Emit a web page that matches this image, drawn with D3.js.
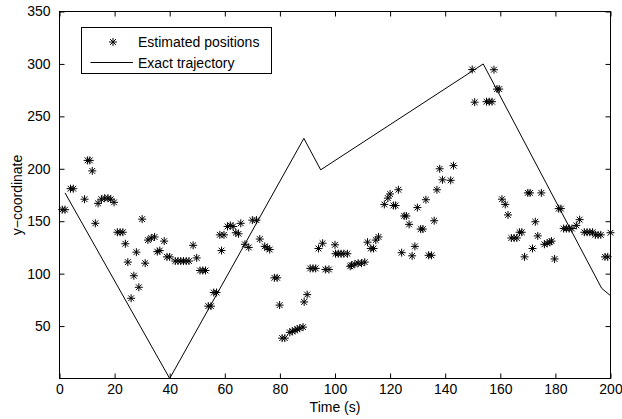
<!DOCTYPE html>
<html><head><meta charset="utf-8">
<script src="https://cdn.jsdelivr.net/npm/d3@7"></script>
<style>body{margin:0;background:#fff}svg{display:block}text{font-family:"Liberation Sans",Arial,sans-serif;fill:#000}</style>
</head><body>
<script>
// Estimated positions (time, y)
const estTime = [1,2,4,5,9.1,10.2,11,11.9,13,14,15.2,16.4,17.6,18.6,19.8,21,22,23,23.9,24.8,26,27,27.9,28.8,30,31.1,32.1,33.3,34.5,35.5,36.4,38,39,40,
  42,43,44,45,46,47,48.5,49.8,51,52,53,54,55,56,57,58.2,58.8,59.7,61,62,63,64,65,65.8,67.3,68.7,70,71.5,72.7,74.5,75.4,76.3,78,79,79.9,80.8,81.8,
  83.6,84.5,85.5,86.3,87.2,88.4,88.8,89.9,91,92,93,94,95.5,96.5,97.8,100,100.2,101.2,102.2,103.2,104.5,105.5,106,107.2,108.4,109.6,110.8,111.8,113,114,114.8,115.8,
  117.9,119.2,120,121.2,122,123,124.2,125.1,125.9,126.9,128,129,129.9,131.1,131.9,133,134,135,136,137,138,139,142,143,
  149.8,150.7,155,156,157,157.7,158.8,159.6,160.6,161.8,162.8,164,165,166,167,167.8,168.8,170,170.8,171.7,172.7,173.6,174.9,176,177,178,178.6,179.7,
  181.2,182,183,184,185,186,187.6,188.8,190.5,191.5,192.5,193.5,194.5,195.5,196.5,198,199,200];
const estY = [161,161,181,181,171,208,208,198,148,167,171,172,172,171,168,139.5,139.5,139.5,128.5,111,76.5,98,120.5,87,152,110,132,134,135,121,122,131,116,116,
  112,112,112,112,112,112,127,115,103,103,103,69,69,82,82,137,122,137,145,146,145,139,138,148,128,125,151,151,133,126,124.5,123,96,96,70,38.5,38.5,
  44,45,46,47,48,49,73,80,105,105,105,124,129,104,104,127.5,119,119,119,119,119,107,108,109,110,110,111,130,124,124,132,135,
  166,172,176,165,165,180,120,155,155,147,117,126,163,142.5,142.5,170.5,117.5,117.5,150.5,180,200,189.5,189,203,
  294.7,263.5,264,264,264,294.5,276,276,171,166,156,134,134,134,139.5,139.5,116,177,177,124,149.5,136,177,128,129,130,131,114,
  162,162,143,143,143,143,146,151.5,139.5,139.5,139.5,139.5,137,137,137,116,116,139];
// Exact trajectory
const trajTime = [2,40,88.7,94.8,153.8,196.8,200];
const trajY = [177,0,229,199,300,86,79];
const xTicks = [0,20,40,60,80,100,120,140,160,180,200];
const yTicks = [50,100,150,200,250,300,350];
const legendLabels = ["Estimated positions","Exact trajectory"];

const W = 622, H = 419;
const svg = d3.select("body").append("svg").attr("width", W).attr("height", H);
const L = 59.5, R = 610.5, T = 11.5, B = 378.5;
const x = d3.scaleLinear().domain([0,200]).range([L,R]);
const y = d3.scaleLinear().domain([0,350]).range([B,T]);

// frame
svg.append("rect").attr("x",L).attr("y",T).attr("width",R-L).attr("height",B-T)
  .attr("fill","#fff").attr("stroke","#000").attr("stroke-width",1);

// axes (inward ticks on all sides)
const fs = 14;
const ax = svg.append("g").attr("transform",`translate(0,${B})`)
  .call(d3.axisBottom(x).tickValues(xTicks).tickSizeInner(-5).tickSizeOuter(0).tickPadding(6));
const axT = svg.append("g").attr("transform",`translate(0,${T})`)
  .call(d3.axisTop(x).tickValues(xTicks).tickSizeInner(-5).tickSizeOuter(0).tickFormat(""));
const ay = svg.append("g").attr("transform",`translate(${L},0)`)
  .call(d3.axisLeft(y).tickValues(yTicks).tickSizeInner(-5).tickSizeOuter(0).tickPadding(9));
const ayR = svg.append("g").attr("transform",`translate(${R},0)`)
  .call(d3.axisRight(y).tickValues(yTicks).tickSizeInner(-5).tickSizeOuter(0).tickFormat(""));
[ax,axT,ay,ayR].forEach(g=>{
  g.select(".domain").remove();
  g.selectAll("line").attr("stroke","#000");
  g.selectAll("text").attr("font-size",fs).attr("font-family","'Liberation Sans',Arial,sans-serif").attr("fill","#000");
});

// trajectory line
svg.append("path")
  .datum(trajTime.map((t,i)=>[t,trajY[i]]))
  .attr("fill","none").attr("stroke","#000").attr("stroke-width",1)
  .attr("d", d3.line().x(d=>x(d[0])).y(d=>y(d[1])));

// star marker
const starPath = "M-4,0L4,0M0,-4L0,4M-2.9,-2.9L2.9,2.9M-2.9,2.9L2.9,-2.9";
svg.append("g").selectAll("path").data(estTime.map((t,i)=>[t,estY[i]])).join("path")
  .attr("transform",d=>`translate(${x(d[0])},${y(d[1])})`)
  .attr("d",starPath).attr("stroke","#000").attr("stroke-width",1).attr("fill","none");

// axis labels
svg.append("text").attr("x",(L+R)/2).attr("y",412).attr("text-anchor","middle")
  .attr("font-size",fs).text("Time (s)");
svg.append("text").attr("transform",`translate(22,${(T+B)/2}) rotate(-90)`).attr("text-anchor","middle")
  .attr("font-size",fs).text("y−coordinate");

// legend
const lg = svg.append("g");
lg.append("rect").attr("x",81.5).attr("y",27.5).attr("width",190).attr("height",46)
  .attr("fill","#fff").attr("stroke","#000").attr("stroke-width",1);
lg.append("path").attr("transform","translate(113,42)").attr("d",starPath).attr("stroke","#000").attr("fill","none");
lg.append("line").attr("x1",90.5).attr("x2",133).attr("y1",62.5).attr("y2",62.5).attr("stroke","#000");
lg.selectAll("text.lt").data(legendLabels).join("text").attr("class","lt")
  .attr("x",138).attr("y",(d,i)=>47+i*20.5).attr("font-size",fs).text(d=>d);
</script>
</body></html>
